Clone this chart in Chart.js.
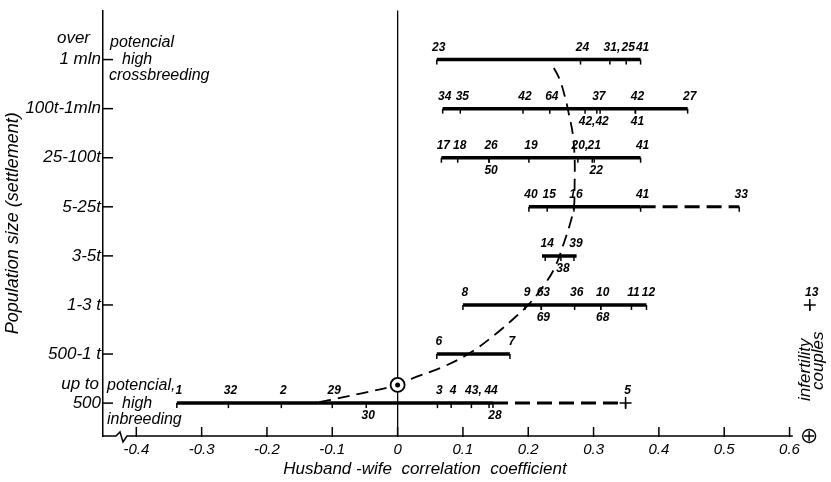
<!DOCTYPE html>
<html>
<head>
<meta charset="utf-8">
<script src="https://cdn.jsdelivr.net/npm/chart.js@4"></script>
<style>
  html, body { margin: 0; padding: 0; background: #fff; }
  #wrap { width: 831px; height: 482px; }
</style>
</head>
<body>
<div id="wrap"><canvas id="chart" width="831" height="482"></canvas></div>
<script>
plots = document.getElementById("chart");

// rows (settlement size), bottom to top; first lines of two-line names kept apart
const rowNames = ["500", "500-1 t", "1-3 t", "3-5t", "5-25t", "25-100t", "100t-1mln", "1 mln"];
const rowPrefix = ["up to", "", "", "", "", "", "", "over"];
const xTicks = [-0.4, -0.3, -0.2, -0.1, 0, 0.1, 0.2, 0.3, 0.4, 0.5, 0.6];

// range of correlation for each row (solid bar)
const rangeMin = [-0.338, 0.06, 0.10, 0.221, 0.201, 0.067, 0.069, 0.06];
const rangeMax = [0.146, 0.172, 0.381, 0.274, 0.372, 0.372, 0.444, 0.372];
// dashed extension to outlying study
const extRow = [0, 4];
const extMax = [0.349, 0.523];

// single studies: label, row, correlation, label above (a) or below (b)
const studyText = ["1", "32", "2", "29", "30", "3", "4", "43,", "44", "28", "5",
  "6", "7",
  "8", "9", "63", "36", "10", "11", "12", "69", "68", "13",
  "14", "39", "38",
  "40", "15", "16", "41", "33",
  "17", "18", "26", "19", "20,", "21", "41", "50", "22",
  "34", "35", "42", "64", "37", "42", "27", "42,", "42", "41",
  "23", "24", "31,", "25", "41"];
const studyRow = [0, 0, 0, 0, 0, 0, 0, 0, 0, 0, 0,
  1, 1,
  2, 2, 2, 2, 2, 2, 2, 2, 2, 2,
  3, 3, 3,
  4, 4, 4, 4, 4,
  5, 5, 5, 5, 5, 5, 5, 5, 5,
  6, 6, 6, 6, 6, 6, 6, 6, 6, 6,
  7, 7, 7, 7, 7];
const studyR = [-0.338, -0.259, -0.178, -0.100, -0.048, 0.061, 0.082, 0.113, 0.14, 0.146, 0.349,
  0.06, 0.172,
  0.10, 0.195, 0.22, 0.271, 0.311, 0.358, 0.381, 0.22, 0.311, 0.631,
  0.226, 0.27, 0.25,
  0.201, 0.229, 0.27, 0.372, 0.523,
  0.067, 0.092, 0.14, 0.201, 0.276, 0.298, 0.372, 0.14, 0.301,
  0.069, 0.096, 0.192, 0.233, 0.305, 0.364, 0.444, 0.287, 0.31, 0.364,
  0.06, 0.28, 0.325, 0.35, 0.372];
const studySide = ["a", "a", "a", "a", "b", "a", "a", "a", "a", "b", "a",
  "a", "a",
  "a", "a", "a", "a", "a", "a", "a", "b", "b", "a",
  "a", "a", "b",
  "a", "a", "a", "a", "a",
  "a", "a", "a", "a", "a", "a", "a", "b", "b",
  "a", "a", "a", "a", "a", "a", "a", "b", "b", "b",
  "a", "a", "a", "a", "a"];

// trend line (dashed curve)
const trendR = [-0.12, -0.09, -0.055, 0, 0.022, 0.068, 0.113, 0.154, 0.18, 0.2, 0.222, 0.241, 0.256, 0.265, 0.27, 0.271, 0.271, 0.268, 0.262, 0.257, 0.248, 0.234];
const trendRow = [0.02, 0.1, 0.2, 0.37, 0.5, 0.73, 1.04, 1.45, 1.75, 2.0, 2.36, 2.77, 3.32, 3.7, 4.0, 4.5, 5.0, 5.5, 5.9, 6.2, 6.6, 6.95];

// special markers
const meanR = [0], meanRow = [0.37];
const crossR = [0.349, 0.631], crossRow = [0, 2];
const infertR = [0.63], infertRow = [-0.67];

const xy = (xs, ys) => xs.map((v, i) => ({ x: v, y: ys[i] }));

Chart.defaults.font.family = "Liberation Sans";
Chart.defaults.color = "#000";

const datasets = [];
datasets.push({ data: xy(meanR, meanRow), pointRadius: 2.5, backgroundColor: "#000", borderWidth: 0 });
datasets.push({ data: xy(meanR, meanRow), pointRadius: 7, backgroundColor: "#fff", borderColor: "#000", borderWidth: 1.8 });
datasets.push({ data: xy(infertR, infertRow), pointStyle: "cross", pointRadius: 5, borderColor: "#000", borderWidth: 1.4 });
datasets.push({ data: xy(infertR, infertRow), pointRadius: 6.5, backgroundColor: "#fff", borderColor: "#000", borderWidth: 1.4 });
datasets.push({ data: xy(crossR, crossRow), pointStyle: "cross", pointRadius: 6, borderColor: "#000", borderWidth: 1.5 });
rowNames.forEach((n, i) => {
  datasets.push({ data: [{ x: rangeMin[i], y: i }, { x: rangeMax[i], y: i }], showLine: true, borderColor: "#000", borderWidth: 3.5, pointRadius: 0 });
});
extRow.forEach((r, i) => {
  datasets.push({ data: [{ x: rangeMax[r], y: r }, { x: extMax[i], y: r }], showLine: true, borderColor: "#000", borderWidth: 3, borderDash: [15, 7], pointRadius: 0 });
});
datasets.push({ data: xy(trendR, trendRow), showLine: true, tension: 0.35, borderColor: "#000", borderWidth: 1.8, borderDash: [12, 7], pointRadius: 0 });
datasets.forEach(d => { d.clip = false; });

const annot = {
  id: "annot",
  afterDraw(chart) {
    const { ctx, chartArea: a, scales: { x, y } } = chart;
    ctx.save();
    ctx.strokeStyle = "#000";
    ctx.fillStyle = "#000";
    ctx.lineWidth = 1.5;
    // x axis with break mark
    const yb = a.bottom;
    ctx.beginPath();
    ctx.moveTo(a.left, yb);
    ctx.lineTo(a.left + 13, yb);
    ctx.lineTo(a.left + 17, yb - 4);
    ctx.lineTo(a.left + 20, yb + 6);
    ctx.lineTo(a.left + 24, yb);
    ctx.lineTo(x.getPixelForValue(0.605), yb);
    ctx.stroke();
    // inward ticks
    x.ticks.forEach(t => {
      const px = x.getPixelForValue(t.value);
      ctx.beginPath(); ctx.moveTo(px, yb + 1); ctx.lineTo(px, yb - 9); ctx.stroke();
    });
    y.ticks.forEach(t => {
      const py = y.getPixelForValue(t.value);
      ctx.beginPath(); ctx.moveTo(a.left, py); ctx.lineTo(a.left + 10, py); ctx.stroke();
    });
    // first lines of two-line row names
    ctx.font = "italic 17px 'Liberation Sans'";
    ctx.textAlign = "right";
    ctx.textBaseline = "middle";
    rowPrefix.forEach((p, i) => {
      if (p) ctx.fillText(p, i === 0 ? 99 : 90, y.getPixelForValue(i) - (i === 0 ? 19 : 21));
    });
    // study marks and labels
    ctx.lineWidth = 1.5;
    studyR.forEach((r, i) => {
      const px = x.getPixelForValue(r), py = y.getPixelForValue(studyRow[i]);
      ctx.beginPath(); ctx.moveTo(px, py); ctx.lineTo(px, py + 5); ctx.stroke();
    });
    ctx.font = "italic bold 12px 'Liberation Sans'";
    ctx.textAlign = "center";
    studyText.forEach((s, i) => {
      const px = x.getPixelForValue(studyR[i]) + 2;
      const py = y.getPixelForValue(studyRow[i]) + (studySide[i] === "a" ? -12 : 13);
      ctx.fillText(s, px, py);
    });
    // notes near axis
    ctx.font = "italic 16px 'Liberation Sans'";
    ctx.textAlign = "left";
    const yTop = y.getPixelForValue(7), yBot = y.getPixelForValue(0);
    ctx.fillText("potencial", a.left + 7, yTop - 17);
    ctx.fillText("high", a.left + 19, yTop);
    ctx.fillText("crossbreeding", a.left + 6, yTop + 16);
    ctx.fillText("potencial,", a.left + 4, yBot - 18);
    ctx.fillText("high", a.left + 19, yBot);
    ctx.fillText("inbreeding", a.left + 4, yBot + 16);
    // infertility couples
    ctx.save();
    ctx.translate(x.getPixelForValue(0.63), y.getPixelForValue(0.68));
    ctx.rotate(-Math.PI / 2);
    ctx.textAlign = "center";
    ctx.font = "italic 17px 'Liberation Sans'";
    ctx.fillText("infertility", 0, -4);
    ctx.fillText("couples", 9, 9);
    ctx.restore();
    // x axis title
    ctx.font = "italic 17px 'Liberation Sans'";
    ctx.textAlign = "center";
    ctx.fillText("Husband -wife  correlation  coefficient", 425, 469);
    ctx.restore();
  }
};

new Chart(plots, {
  type: "scatter",
  data: { datasets: datasets },
  options: {
    responsive: false,
    animation: false,
    layout: { padding: { top: 0, right: 6, left: 0, bottom: 0 } },
    plugins: { legend: { display: false }, tooltip: { enabled: false } },
    scales: {
      x: {
        type: "linear",
        min: -0.451,
        max: 0.65,
        afterBuildTicks: s => { s.ticks = xTicks.map(v => ({ value: v })); },
        afterFit: s => { s.height = 46; },
        border: { display: false },
        grid: {
          drawTicks: false,
          color: c => (c.tick && c.tick.value === 0 ? "#000" : "rgba(0,0,0,0)"),
          lineWidth: 1.3
        },
        ticks: {
          autoSkip: false,
          maxRotation: 0,
          padding: 5,
          font: { size: 15, style: "italic" },
          callback: v => (v === 0 ? "0" : v.toFixed(1))
        }
      },
      y: {
        type: "linear",
        min: -0.67,
        max: 8.0,
        afterBuildTicks: s => { s.ticks = rowNames.map((n, i) => ({ value: i })); },
        afterFit: s => { s.width = 103; },
        border: { display: true, color: "#000", width: 1.5 },
        grid: { display: false, drawTicks: false },
        ticks: {
          autoSkip: false,
          padding: 2,
          font: { size: 17, style: "italic", lineHeight: 1.0 },
          callback: v => rowNames[v]
        },
        title: {
          display: true,
          text: "Population size (settlement)",
          font: { size: 18, style: "italic" },
          padding: { top: 2, bottom: 0 }
        }
      }
    }
  },
  plugins: [annot]
});
</script>
</body>
</html>
